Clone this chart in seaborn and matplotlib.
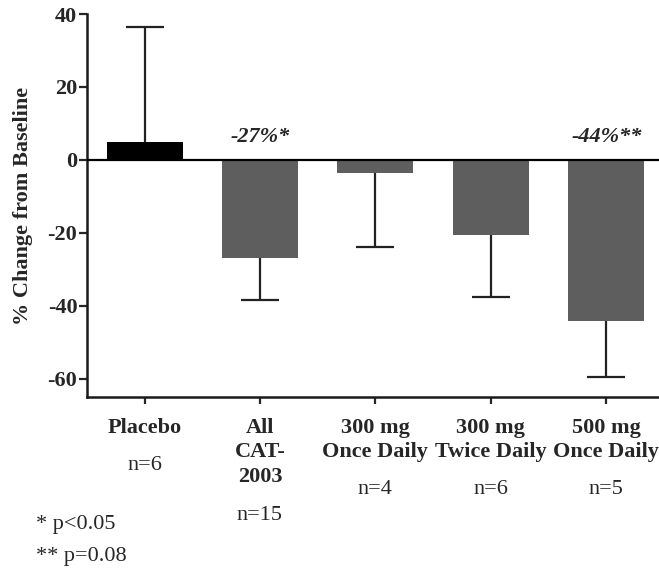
import matplotlib
matplotlib.use("Agg")
import matplotlib.pyplot as plt
import seaborn as sns
import pandas as pd
import numpy as np

categories = ["Placebo", "All\nCAT-\n2003", "300 mg\nOnce Daily", "300 mg\nTwice Daily", "500 mg\nOnce Daily"]
means = [5.0, -27.0, -3.6, -20.7, -44.3]
errors = [31.4, 11.3, 20.2, 17.0, 15.2]
n_labels = ["n=6", "n=15", "n=4", "n=6", "n=5"]
bar_colors = ["#000000", "#5e5e5e", "#5e5e5e", "#5e5e5e", "#5e5e5e"]
annot_idx = [1, 4]
annot_text = ["-27%*", "-44%**"]
footnotes = ["* p<0.05", "** p=0.08"]
yticks = [-60, -40, -20, 0, 20, 40]

sns.set_style("ticks")
plt.rcParams["font.family"] = ["Liberation Serif", "DejaVu Serif"]

FS = 16
fig = plt.figure(figsize=(6.59, 5.70), dpi=100)
ax = fig.add_axes([87/659, 1 - 397/570, 1 - 87/659, (397 - 14)/570])

df = pd.DataFrame({"cat": categories, "val": means})
sns.barplot(data=df, x="cat", y="val", hue="cat", palette=bar_colors,
            legend=False, errorbar=None, width=0.66, ax=ax,
            edgecolor="none", saturation=1)

x = np.arange(len(categories))
lower = [0 if m >= 0 else e for m, e in zip(means, errors)]
upper = [e if m >= 0 else 0 for m, e in zip(means, errors)]
ax.errorbar(x, means, yerr=[lower, upper], fmt="none", ecolor="#222222",
            elinewidth=1.6, capsize=0, zorder=1)
ends = [m + e if m >= 0 else m - e for m, e in zip(means, errors)]
ax.plot(x, ends, linestyle="none", marker="_", markersize=27.4,
        markeredgewidth=1.6, color="#222222", zorder=1)

ax.axhline(0, color="black", lw=1.6, zorder=3)

ax.set_xlim(-0.5, 4.46)
ax.set_ylim(-65, 40)
ax.set_yticks(yticks)
ax.set_yticklabels([str(t) for t in yticks], fontsize=FS, fontweight="bold")
ax.set_xticks(x)
ax.set_xticklabels(categories, fontsize=FS, fontweight="bold", linespacing=1.3)
ax.tick_params(axis="y", length=6, width=1.6, pad=1)
ax.tick_params(axis="x", length=5, width=1.6, pad=10)
ax.set_xlabel("")
ax.set_ylabel("% Change from Baseline", fontsize=FS, fontweight="bold")
ax.yaxis.set_label_coords(-0.095, 0.5)
sns.despine(ax=ax)
for s in ["left", "bottom"]:
    ax.spines[s].set_linewidth(1.8)
    ax.spines[s].set_color("#1a1a1a")

trans = ax.get_xaxis_transform()
n_ypx = [465, 515, 490, 490, 490]
for i, (lab, ypx) in enumerate(zip(n_labels, n_ypx)):
    ax.text(i, (397 - ypx) / 383, lab, transform=trans, ha="center", va="center",
            fontsize=FS)

for i, t in zip(annot_idx, annot_text):
    ax.text(i + (0.01 if i == 4 else 0), 6.3, t, ha="center", va="center", fontsize=FS,
            fontweight="bold", fontstyle="italic")

fig.text(36/659, 1 - 525/570, footnotes[0], ha="left", va="center", fontsize=FS)
fig.text(36/659, 1 - 557/570, footnotes[1], ha="left", va="center", fontsize=FS)

fig.savefig("out.png", dpi=100)
